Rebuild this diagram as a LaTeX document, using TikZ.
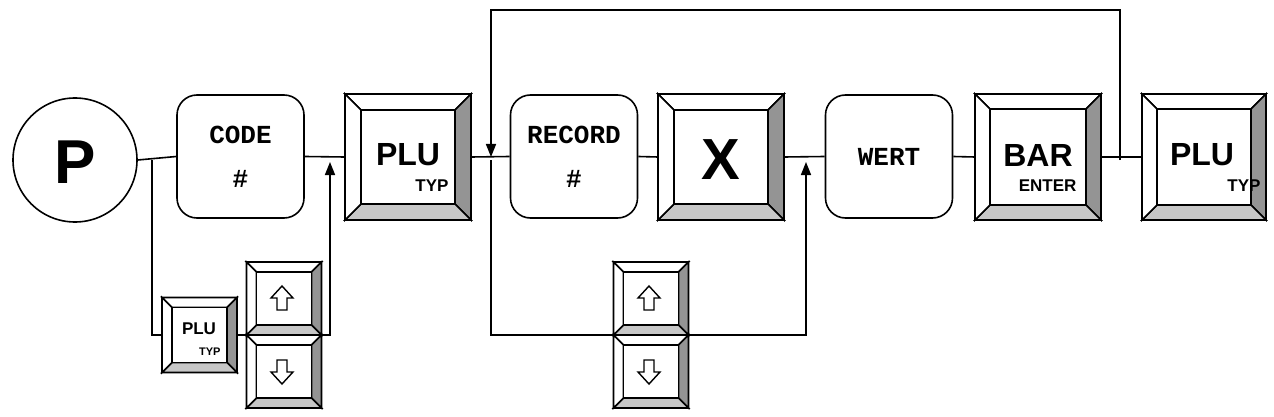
\documentclass[tikz,border=0pt]{standalone}
\usepackage{fontspec}
\setmainfont{Liberation Sans}
\newfontfamily\mono{Liberation Mono}
\usetikzlibrary{calc,arrows.meta}
\tikzset{
  ln/.style={line width=1.6pt},
  arr/.style={ln,-{Triangle[length=13pt,width=10pt]}},
  keyn/.style={inner sep=0pt,outer sep=0pt},
  rbox/.style={draw,ln,rounded corners=20pt,inner sep=0pt,minimum width=127pt,minimum height=123pt},
  mt/.style={font=\mono\bfseries\fontsize{26}{26}\selectfont},
  big/.style={font=\bfseries\fontsize{32}{32}\selectfont},
  sml/.style={font=\bfseries\fontsize{17}{17}\selectfont},
}
\newcommand\bevelkey[2]{%
  \path (#1.north west) coordinate (A) (#1.north east) coordinate (B)
        (#1.south east) coordinate (C) (#1.south west) coordinate (D)
        ($(A)+(#2,#2)$) coordinate (a) ($(B)+(-#2,#2)$) coordinate (b)
        ($(C)+(-#2,-#2)$) coordinate (c) ($(D)+(#2,-#2)$) coordinate (d);
  \draw[ln,fill=white] (A)--(B)--(b)--(a)--cycle;
  \draw[ln,fill=black!42] (B)--(C)--(c)--(b)--cycle;
  \draw[ln,fill=black!22] (C)--(D)--(d)--(c)--cycle;
  \draw[ln,fill=white] (D)--(A)--(a)--(d)--cycle;
  \draw[ln,fill=white] (a) rectangle (c);}
\newcommand\uparr[2]{\draw[line width=1.4pt,fill=white,shift={(#1,#2)}] (0,-12)--(11,0)--(5,0)--(5,12)--(-5,12)--(-5,0)--(-11,0)--cycle;}
\newcommand\dnarr[2]{\draw[line width=1.4pt,fill=white,shift={(#1,#2)}] (0,12)--(11,0)--(5,0)--(5,-12)--(-5,-12)--(-5,0)--(-11,0)--cycle;}
\begin{document}
\begin{tikzpicture}[x=1pt,y=-1pt]
\useasboundingbox (0,0) rectangle (1274,417);
% nodes
\node[draw,ln,circle,minimum size=124pt,inner sep=0pt] (P) at (75,160) {};
\node[font=\bfseries\fontsize{62}{62}\selectfont] at (75,162) {P};
\node[rbox] (code) at (240.5,156.5) {};
\node[mt] at (240.5,135) {CODE};
\node[mt] at (240.5,179) {\#};
\node[keyn,minimum width=126pt,minimum height=126pt] (plu1) at (408,157) {};
\node[rbox] (rec) at (574,156.5) {};
\node[mt] at (574,135) {RECORD};
\node[mt] at (574,179) {\#};
\node[keyn,minimum width=126pt,minimum height=126pt] (xk) at (721,157) {};
\node[rbox] (wert) at (889,156.5) {};
\node[mt] at (889,157) {WERT};
\node[keyn,minimum width=126pt,minimum height=126pt] (bar) at (1038,157) {};
\node[keyn,minimum width=124pt,minimum height=126pt] (plu2) at (1204,157) {};
\node[keyn,minimum width=75pt,minimum height=75pt] (splu) at (199.5,335) {};
\node[keyn,minimum width=75pt,minimum height=73pt] (up1) at (284,298.5) {};
\node[keyn,minimum width=75pt,minimum height=73pt] (dn1) at (284,371.5) {};
\node[keyn,minimum width=75pt,minimum height=73pt] (up2) at (651,298.5) {};
\node[keyn,minimum width=75pt,minimum height=73pt] (dn2) at (651,371.5) {};
\coordinate (j1) at (152,160);
\coordinate (j2) at (330,335);
\coordinate (j3) at (491,160);
\coordinate (j4) at (806,335);
\coordinate (j5) at (1120,160);
% connectors
\draw[ln] (P.east)--(code.west);
\draw[ln] (code.east)--(plu1.west);
\draw[ln] (plu1.east)--(rec.west);
\draw[ln] (rec.east)--(xk.west);
\draw[ln] (xk.east)--(wert.west);
\draw[ln] (wert.east)--(bar.west);
\draw[ln] (bar.east)--(plu2.west);
\draw[ln] (j1)|-(splu.west);
\draw[ln] (splu.east)--(up1.south west);
\draw[arr] (up1.south east)--(j2)--(330,162);
\draw[ln] (j3)|-(dn2.north west);
\draw[arr] (dn2.north east)-|(806,162);
\draw[arr] (j5)--(1120,10)--(491,10)--(491,157);
% keys
\bevelkey{plu1}{16}
\node[big] at (408,155) {PLU};
\node[sml,anchor=east] at (452,186) {TYP};
\bevelkey{xk}{16}
\node[font=\bfseries\fontsize{58}{58}\selectfont] at (721,160) {X};
\bevelkey{bar}{15}
\node[big] at (1038,155) {BAR};
\node[sml,anchor=east] at (1080,186) {ENTER};
\bevelkey{plu2}{15}
\node[big] at (1202,155) {PLU};
\node[sml,anchor=east] at (1264,186) {TYP};
\bevelkey{splu}{10}
\node[sml] at (199,329) {PLU};
\node[font=\bfseries\fontsize{11}{11}\selectfont,anchor=east] at (224,352) {TYP};
\bevelkey{up1}{10}\uparr{282}{298}
\bevelkey{dn1}{10}\dnarr{282}{372}
\bevelkey{up2}{10}\uparr{649}{298}
\bevelkey{dn2}{10}\dnarr{649}{372}
\end{tikzpicture}
\end{document}
